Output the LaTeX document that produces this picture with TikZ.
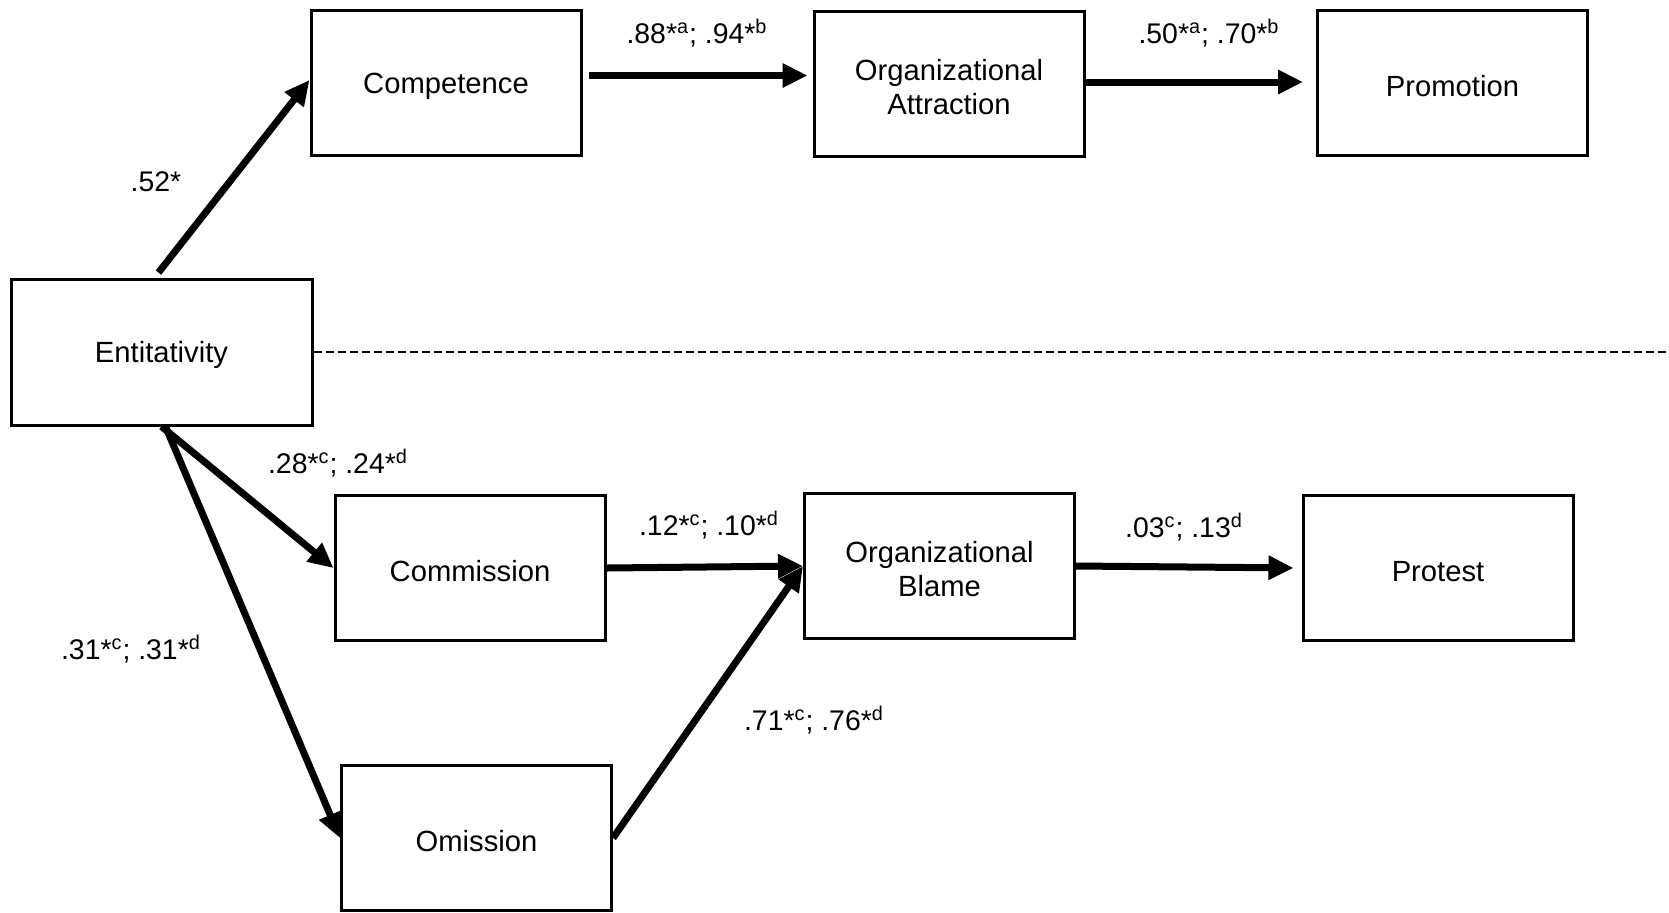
\documentclass[tikz,border=0pt]{standalone}
\usepackage{fontspec}
\setmainfont{Liberation Sans}
\usetikzlibrary{arrows.meta}
\tikzset{
  box/.style={draw,line width=1.5pt,minimum width=135pt,minimum height=72.5pt,
    align=center,inner sep=0pt,font=\fontsize{14.6}{17}\selectfont,
    execute at begin node={\rule{0pt}{13.7pt}}},
  box2/.style={box,execute at begin node={\rule{0pt}{30.8pt}}},
  coef/.style={inner sep=0pt,font=\fontsize{14.2}{16}\selectfont},
  link/.style={line width=3.5pt,-{Triangle[length=12.5pt,width=11.5pt]}}
}
\begin{document}
\begin{tikzpicture}[x=0.5pt,y=-0.5pt]
  \useasboundingbox (0,0) rectangle (1669,912);
  \draw
    (161.5,352) node[box,minimum width=150.5pt,minimum height=73pt] (ent){Entitativity}
    (446,82.5) node[box] (comp){Competence}
    (949,83.5) node[box2] (attr){Organizational\\Attraction}
    (1452.5,82.5) node[box] (prom){Promotion}
    (470,568) node[box] (comm){Commission}
    (476.5,838) node[box] (omis){Omission}
    (939.5,566) node[box2] (blame){Organizational\\Blame}
    (1438,568) node[box] (prot){Protest};
  \coordinate (dashend) at (1669,352);
  \draw[dash pattern=on 4pt off 2pt,line width=0.9pt] (ent.east) -- (dashend);
  \begin{scope}[link]
    \draw ([xshift=-1.5pt,yshift=2.5pt]ent.north) to ([yshift=1.25pt]comp.west);
    \draw[shorten <=3pt,shorten >=2.5pt] ([yshift=3.5pt]comp.east) to ([yshift=3.5pt]comp.east -| attr.west);
    \draw[shorten >=6.5pt] ([yshift=0.75pt]attr.east) to ([yshift=0.75pt]attr.east -| prom.west);
    \draw (ent.south) to (comm.west);
    \draw ([xshift=2pt]ent.south) to (omis.west);
    \draw (comm.east) to (blame.west);
    \draw (omis.east) to (blame.west);
    \draw[shorten >=4pt] (blame.east) to (prot.west);
  \end{scope}
  \node[coef] (c52) at (156,182) {.52*};
  \node[coef] (c88) at (697,33) {.88*\textsuperscript{a}; .94*\textsuperscript{b}};
  \node[coef] (c50) at (1209,33) {.50*\textsuperscript{a}; .70*\textsuperscript{b}};
  \node[coef] (c28) at (338,463) {.28*\textsuperscript{c}; .24*\textsuperscript{d}};
  \node[coef] (c12) at (709,525) {.12*\textsuperscript{c}; .10*\textsuperscript{d}};
  \node[coef] (c03) at (1184,527) {.03\textsuperscript{c}; .13\textsuperscript{d}};
  \node[coef] (c31) at (131,649) {.31*\textsuperscript{c}; .31*\textsuperscript{d}};
  \node[coef] (c71) at (814,720) {.71*\textsuperscript{c}; .76*\textsuperscript{d}};
\end{tikzpicture}
\end{document}
